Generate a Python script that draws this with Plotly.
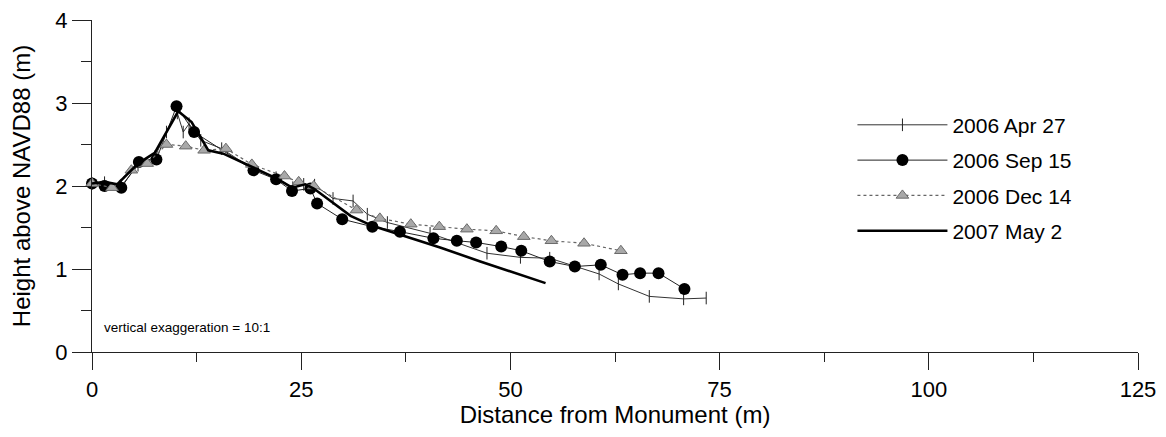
import plotly.graph_objects as go

# 2006 Apr 27
apr_x = [0, 1.5, 3.5, 5.5, 7.5, 8.9, 10.2, 10.9, 11.6, 13.0, 15.5, 19.3, 22.0, 24.0, 25.3, 26.6, 28.8,
         31.2, 32.9, 35.3, 40.4, 47.2, 51.2, 54.7, 60.6, 62.9, 66.6, 70.7, 73.4]
apr_y = [2.03, 2.04, 2.00, 2.25, 2.35, 2.65, 2.88, 2.65, 2.75, 2.55, 2.45, 2.20, 2.10, 1.98, 2.02, 2.01, 1.85,
         1.82, 1.66, 1.56, 1.43, 1.19, 1.14, 1.13, 0.94, 0.82, 0.67, 0.64, 0.65]

# 2006 Sep 15
sep_x = [0, 1.5, 3.5, 5.6, 7.7, 10.1, 12.2, 19.3, 22.0, 23.9, 26.1, 26.9, 29.9, 33.5, 36.8, 40.8, 43.6,
         45.9, 48.9, 51.3, 54.7, 57.7, 60.8, 63.4, 65.5, 67.7, 70.8]
sep_y = [2.03, 2.00, 1.98, 2.29, 2.32, 2.96, 2.65, 2.19, 2.08, 1.94, 1.97, 1.79, 1.60, 1.51, 1.45, 1.37, 1.34,
         1.32, 1.27, 1.22, 1.09, 1.03, 1.05, 0.93, 0.95, 0.95, 0.76]

# 2006 Dec 14
dec_x = [0, 2.4, 4.7, 6.6, 8.9, 11.2, 13.4, 16.0, 19.1, 23.0, 24.7, 26.5, 31.6, 34.4, 38.1, 41.5, 44.8,
         48.3, 51.6, 54.9, 58.8, 63.2]
dec_y = [2.03, 1.98, 2.19, 2.27, 2.50, 2.48, 2.43, 2.45, 2.26, 2.12, 2.05, 2.00, 1.71, 1.61, 1.54, 1.51, 1.48,
         1.46, 1.39, 1.34, 1.31, 1.22]

# 2007 May 2
may_x = [0, 1.5, 3.0, 5.5, 7.5, 10.3, 11.9, 13.9, 15.7, 19.3, 22.1, 23.9, 25.5, 26.5, 28.5, 30.9, 33.5,
         36.4, 41.6, 46.4, 54.2]
may_y = [2.03, 2.05, 2.02, 2.27, 2.40, 2.90, 2.77, 2.43, 2.39, 2.22, 2.09, 1.98, 2.02, 1.97, 1.82, 1.64, 1.52,
         1.43, 1.26, 1.09, 0.83]

FONT = "Liberation Sans, Arial, sans-serif"

fig = go.Figure()
fig.add_trace(go.Scatter(
    x=apr_x, y=apr_y, name="2006 Apr 27", mode="lines+markers", legendgroup="a",
    line=dict(color="#333333", width=1),
    marker=dict(symbol="line-ns", size=9, line=dict(color="#222222", width=1), color="#222222"),
    cliponaxis=False))
fig.add_trace(go.Scatter(
    x=sep_x, y=sep_y, name="2006 Sep 15", mode="lines+markers", legendgroup="b",
    line=dict(color="#222222", width=1),
    marker=dict(symbol="circle", size=12, color="black"),
    cliponaxis=False))
fig.add_trace(go.Scatter(
    x=dec_x, y=dec_y, name="2006 Dec 14", mode="lines+markers", legendgroup="c",
    line=dict(color="#666666", width=1.2, dash="dot"),
    marker=dict(symbol="triangle-up", size=11, color="#a8a8a8", line=dict(color="#6a6a6a", width=1)),
    cliponaxis=False))
fig.add_trace(go.Scatter(
    x=may_x, y=may_y, name="2007 May 2", mode="lines", legendgroup="d",
    line=dict(color="black", width=2.6),
    cliponaxis=False))

fig.add_annotation(x=1.2, y=0.29, xref="x", yref="y", text="vertical exaggeration = 10:1",
                   showarrow=False, xanchor="left", yanchor="middle",
                   font=dict(family=FONT, size=13.5, color="black"))

# The page body has an 8px default margin, so the figure is sized 8px smaller
fig.update_layout(
    width=1158, height=429,
    margin=dict(l=84, r=28, t=12, b=85, autoexpand=False),
    paper_bgcolor="white", plot_bgcolor="white",
    font=dict(family=FONT, size=22, color="black"),
    showlegend=True,
    legend=dict(x=0.727, y=0.745, xanchor="left", yanchor="top", bgcolor="rgba(0,0,0,0)",
                font=dict(family=FONT, size=21), itemwidth=90, tracegroupgap=5,
                traceorder="grouped"),
    xaxis=dict(range=[0, 125], tick0=0, dtick=25, showline=True, linecolor="#222", linewidth=1.2,
               automargin=False, ticklabeloverflow="allow",
               ticks="outside", ticklen=17, tickwidth=1, tickcolor="#222", showgrid=False, zeroline=False,
               minor=dict(dtick=12.5, ticks="outside", ticklen=9, tickcolor="#222", showgrid=False),
               title=dict(text="Distance from Monument (m)", standoff=4, font=dict(size=24)),
               tickfont=dict(size=22)),
    yaxis=dict(range=[0, 4], tick0=0, dtick=1, showline=True, linecolor="#222", linewidth=1.2,
               automargin=False, ticklabeloverflow="allow",
               ticks="outside", ticklen=19, tickwidth=1, tickcolor="#222", showgrid=False, zeroline=False,
               minor=dict(dtick=0.5, ticks="outside", ticklen=10, tickcolor="#222", showgrid=False),
               title=dict(text="Height above NAVD88 (m)", standoff=20, font=dict(size=24)),
               tickfont=dict(size=22)),
)

fig.write_html("out.html")
